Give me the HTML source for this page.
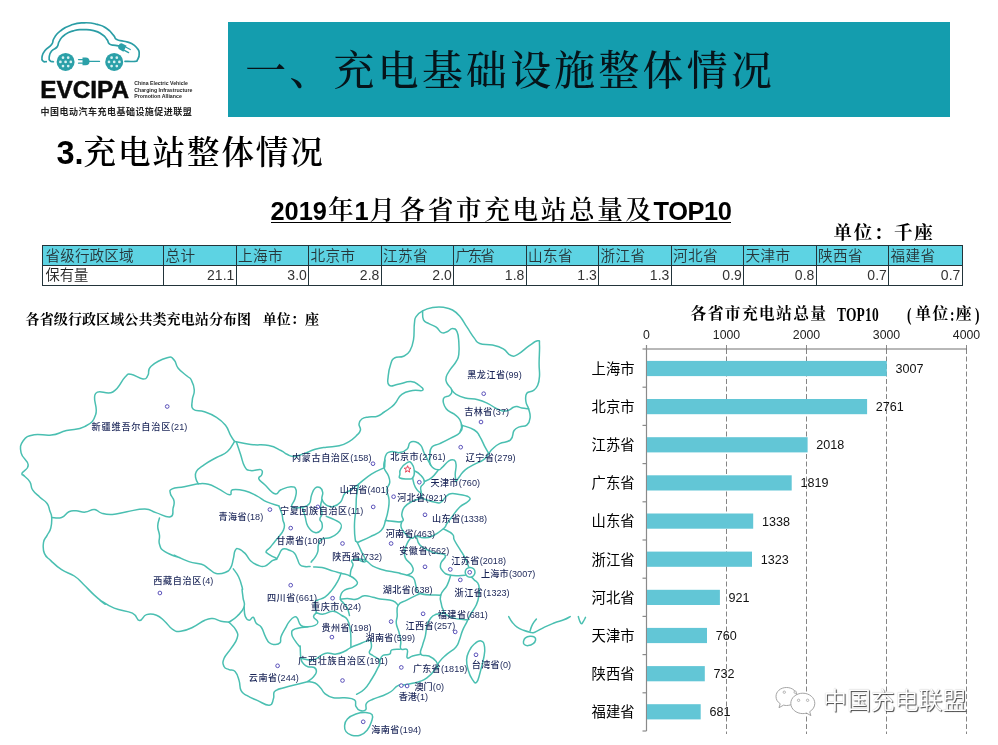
<!DOCTYPE html>
<html lang="zh-CN">
<head>
<meta charset="utf-8">
<title>充电站整体情况</title>
<style>
*{margin:0;padding:0;box-sizing:border-box}
html,body{width:998px;height:745px;background:#fff;overflow:hidden}
body{font-family:"Liberation Sans","Noto Sans CJK SC",sans-serif;color:#000}
#slide{position:relative;width:998px;height:745px;background:#fff;overflow:hidden}
.abs{position:absolute;white-space:nowrap;line-height:1}
.serif{font-family:"Liberation Serif","Noto Serif CJK SC",serif}
.sans{font-family:"Liberation Sans","Noto Sans CJK SC",sans-serif}
#banner{left:228px;top:21.5px;width:722px;height:95px;background:#149dae}
#banner-t{left:245.3px;top:51.8px;font-size:40.8px;font-weight:500;color:#06141a;letter-spacing:3.35px}
#h3{left:56.5px;top:137px;font-size:32.5px;font-weight:600;letter-spacing:1.95px}
#h3 b{font-family:"Liberation Sans",sans-serif;font-weight:700;letter-spacing:0}
#t1{left:270.5px;top:196.5px;height:26.2px;font-size:25.6px;font-weight:600;border-bottom:1.6px solid #000;width:460px}
#t1 span{position:absolute;top:0.7px;line-height:27px}
#t1 .n{font-family:"Liberation Sans",sans-serif;font-size:25.4px;top:1.2px;font-weight:700}
#unit{left:833.6px;top:224px;font-size:18.5px;font-weight:700;letter-spacing:1.65px}
table#tb{position:absolute;left:42px;top:244.6px;border-collapse:collapse;table-layout:fixed;width:920px;font-size:14.6px;color:#26363a;font-weight:350}
#tb td{border:1.3px solid #23343a;height:20px;padding:0 2.5px 0 2.5px;line-height:18px;white-space:nowrap;overflow:hidden}
#tb tr.h td{background:#5dd3e3;padding-left:1.4px;letter-spacing:0.45px;padding-top:1px}
#tb tr.v td{text-align:right;font-family:"Liberation Sans",sans-serif;font-size:14px;color:#333;padding-right:1.2px}
#tb tr.v td:first-child{text-align:left;font-family:"Liberation Sans","Noto Sans CJK SC",sans-serif;font-size:14.3px;color:#222}
#cap{left:25.6px;top:313.1px;font-size:14px;font-weight:700;letter-spacing:0.1px}
#ct{left:0;top:306px;font-size:15.8px;font-weight:700;letter-spacing:1.3px}
#ct span{position:absolute;top:0}
#ct .l{font-family:"Liberation Serif",serif;font-size:19.5px;letter-spacing:0.3px;top:-1.2px;transform:scaleX(.69);transform-origin:0 0;font-weight:700}
</style>
</head>
<body>
<div id="slide">
<div id="banner" class="abs"></div>
<div id="banner-t" class="abs serif">一、充电基础设施整体情况</div>
<div id="h3" class="abs serif"><b>3.</b>充电站整体情况</div>
<div id="t1" class="abs serif"><span class="n" style="left:0">2019</span><span style="left:57.5px">年</span><span class="n" style="left:84px">1</span><span style="left:99px">月</span><span style="left:129px;letter-spacing:2.65px">各省市充电站总量及</span><span class="n" style="left:383px;letter-spacing:-0.4px">TOP10</span></div>
<div id="unit" class="abs serif">单位：千座</div>
<table id="tb">
<colgroup><col style="width:121px"><col style="width:72.5px"><col style="width:72.5px"><col style="width:72.5px"><col style="width:72.5px"><col style="width:72.5px"><col style="width:72.5px"><col style="width:72.5px"><col style="width:72.5px"><col style="width:72.5px"><col style="width:72.5px"><col style="width:73.5px"></colgroup>
<tr class="h"><td style="padding-left:2.5px;letter-spacing:0.1px">省级行政区域</td><td>总计</td><td>上海市</td><td>北京市</td><td>江苏省</td><td style="letter-spacing:-2.2px">广东省</td><td>山东省</td><td>浙江省</td><td>河北省</td><td>天津市</td><td>陕西省</td><td>福建省</td></tr>
<tr class="v"><td>保有量</td><td>21.1</td><td>3.0</td><td>2.8</td><td>2.0</td><td>1.8</td><td>1.3</td><td>1.3</td><td>0.9</td><td>0.8</td><td>0.7</td><td>0.7</td></tr>
</table>
<div id="cap" class="abs serif">各省级行政区域公共类充电站分布图<span style="display:inline-block;width:11.5px"></span>单位：座</div>
<div id="ct" class="abs serif"><span style="left:690.6px">各省市充电站总量</span><span class="l" style="left:836.5px">TOP10</span><span class="l" style="left:907px">(</span><span style="left:915.3px">单位</span><span class="l" style="left:949.5px">:</span><span style="left:955.8px">座</span><span class="l" style="left:975px">)</span></div>
<svg class="abs" id="map" style="left:0;top:0" width="998" height="745" viewBox="0 0 998 745">
<g fill="none" stroke="#4abfb1" stroke-width="1.5" stroke-linecap="round" stroke-linejoin="round">
<path d="M23.6,475.4C23.3,474.8 21.1,475.4 22.2,472.9C23.3,470.4 28.5,469.7 28.2,464.9C27.9,460.1 22.3,458.6 21.1,452.8C19.9,447.0 20.1,445.0 23.2,440.7C26.3,436.4 27.4,436.0 34.2,434.7C41.0,433.4 43.6,436.1 51.4,435.1C59.2,434.1 58.5,432.6 66.5,430.6C74.5,428.6 77.6,430.5 84.6,426.6C91.6,422.7 93.0,422.5 95.7,414.5C98.4,406.5 91.6,398.8 95.7,393.4C99.8,388.0 105.8,395.9 112.8,392.0C119.8,388.1 120.6,381.6 124.9,377.3C129.2,373.0 126.6,373.8 130.9,374.2C135.2,374.6 138.9,378.7 143.0,378.9C147.1,379.1 146.1,378.2 148.0,375.2C149.9,372.2 146.5,370.4 151.1,366.2C155.7,362.0 161.7,359.2 167.2,357.7C172.7,356.2 171.6,357.6 174.2,360.1C176.8,362.6 175.1,364.3 178.2,368.2C181.3,372.1 184.2,373.5 187.3,376.3C190.4,379.1 189.6,376.7 191.3,380.0C193.0,383.3 194.1,385.3 194.3,390.1C194.5,394.9 192.5,395.5 192.3,400.1C192.1,404.7 190.4,406.4 193.3,409.2C196.2,412.0 198.8,409.9 204.4,411.8C210.0,413.7 211.4,414.1 216.5,417.3C221.6,420.5 222.1,421.0 225.5,425.3C228.9,429.6 228.4,431.5 230.6,435.4C232.8,439.3 233.6,440.0 234.6,441.4"/>
<path d="M234.6,441.4C232.9,443.8 231.8,447.6 227.5,451.5C223.2,455.4 222.0,454.4 216.5,457.5C211.0,460.6 209.2,461.2 204.4,464.6C199.6,468.0 198.3,468.2 196.3,471.6C194.3,475.0 195.4,475.8 195.9,478.7C196.4,481.6 197.7,482.5 198.3,483.7"/>
<path d="M198.3,483.7C194.9,484.4 190.5,485.5 184.2,486.7C177.9,487.9 175.5,487.1 172.2,488.8C168.9,490.5 170.0,490.7 170.4,493.6C170.8,496.5 173.4,497.3 174.0,500.8C174.6,504.3 174.0,504.3 173.1,508.1C172.2,511.9 174.5,515.7 170.4,516.8C166.3,517.9 162.0,514.5 155.9,512.6C149.8,510.7 152.0,509.2 145.0,509.0C138.0,508.8 134.7,510.4 126.9,511.7C119.1,513.0 118.5,514.1 112.4,514.4C106.3,514.7 105.8,514.3 101.5,513.1C97.2,511.9 98.2,509.7 94.3,509.5C90.4,509.3 89.6,511.8 85.2,512.1C80.8,512.4 80.0,510.9 76.1,510.8C72.2,510.7 72.4,510.1 68.9,511.7C65.4,513.3 65.7,516.1 61.6,517.5C57.5,518.9 54.1,517.5 51.7,517.5"/>
<path d="M23.6,475.4C25.1,476.9 27.7,478.3 29.9,481.8C32.1,485.3 30.2,486.2 32.6,489.9C35.0,493.6 36.4,493.9 39.9,497.2C43.4,500.5 44.7,500.2 47.1,503.5C49.5,506.8 48.7,507.4 49.8,510.8C50.9,514.2 51.5,513.4 51.7,517.5C51.9,521.6 51.9,523.7 50.8,528.0C49.7,532.3 48.9,531.8 47.1,535.3C45.3,538.8 44.1,538.2 43.5,542.5C42.9,546.8 42.6,549.1 44.4,553.4C46.2,557.7 46.7,556.7 50.8,560.6C54.9,564.5 56.0,566.0 61.6,569.7C67.2,573.4 69.1,572.5 74.3,576.0C79.5,579.5 78.6,579.6 83.4,584.2C88.2,588.8 89.1,590.3 94.3,595.1C99.5,599.9 103.7,602.9 105.1,604.1C106.5,605.3 97.9,599.1 100.1,600.1C102.3,601.1 106.4,605.0 114.2,608.1C122.0,611.2 126.4,610.2 132.4,613.2C138.4,616.2 136.0,620.3 139.4,620.6C142.8,620.9 142.4,615.9 146.5,614.6C150.6,613.3 152.2,613.6 156.5,615.2C160.8,616.8 160.7,617.8 164.6,621.2C168.5,624.6 168.7,626.9 172.6,629.3C176.5,631.7 175.9,631.8 180.7,631.3C185.5,630.8 187.0,630.0 192.8,627.3C198.6,624.6 200.1,622.3 204.9,620.2C209.7,618.1 209.0,618.4 212.9,618.6C216.8,618.8 217.1,620.3 221.0,621.2C224.9,622.1 227.1,622.0 229.0,622.2"/>
<path d="M229.0,622.2C230.7,624.1 234.2,626.4 236.1,630.3C238.0,634.2 238.3,634.0 237.1,638.3C235.9,642.6 234.2,643.6 231.1,648.4C228.0,653.2 225.7,654.2 224.0,658.5C222.3,662.8 222.8,663.8 224.0,666.5C225.2,669.2 226.3,668.4 229.0,669.6C231.7,670.8 232.7,669.0 235.1,671.6C237.5,674.2 237.7,676.0 239.1,680.6C240.5,685.2 239.2,687.1 241.1,690.7C243.0,694.3 243.3,693.4 247.2,695.7C251.1,698.0 251.9,698.1 257.2,700.4C262.5,702.7 265.4,705.6 269.3,705.2C273.2,704.8 272.2,702.0 273.4,698.8C274.6,695.6 272.8,694.1 274.4,691.7C276.0,689.3 279.1,689.3 280.0,688.7C280.9,688.1 276.3,689.8 278.3,689.3C280.3,688.8 283.1,687.8 288.2,686.5C293.3,685.2 294.8,684.9 299.5,683.7C304.2,682.5 305.9,682.1 307.9,681.6"/>
<path d="M307.9,681.6C309.6,681.9 312.0,681.5 315.0,683.0C318.0,684.5 318.2,685.4 320.6,687.9C323.0,690.4 321.9,691.2 324.9,693.6C327.9,696.0 328.6,696.8 333.3,697.8C338.0,698.8 339.5,697.3 344.6,697.8C349.7,698.3 351.8,697.9 354.5,699.9C357.2,701.9 354.6,703.8 355.9,706.3C357.2,708.8 357.7,709.7 360.1,710.5C362.5,711.3 364.2,711.5 365.7,709.8C367.2,708.1 364.7,705.9 366.4,703.4C368.1,700.9 368.9,701.0 372.8,699.2C376.7,697.4 378.3,697.5 382.7,695.7C387.1,693.9 387.5,693.9 391.1,691.5C394.7,689.1 394.5,687.3 397.5,685.8C400.5,684.3 399.8,685.7 403.4,685.1C407.0,684.5 408.6,684.2 412.5,683.3C416.4,682.4 416.2,682.8 419.7,681.5C423.2,680.2 423.4,680.5 426.9,677.9C430.4,675.3 431.1,674.6 434.1,670.7C437.1,666.8 436.5,665.5 439.5,661.6C442.5,657.7 442.8,657.9 446.7,654.4C450.6,650.9 452.8,650.7 455.8,647.2C458.8,643.7 457.8,644.0 459.4,640.0C461.0,636.0 460.7,635.0 462.5,630.6C464.3,626.2 465.1,625.5 467.0,621.6C468.9,617.7 468.4,618.2 470.6,614.3C472.8,610.4 474.1,609.6 476.1,605.3C478.1,601.0 478.2,601.0 478.8,596.2C479.4,591.4 479.9,589.2 478.8,585.3C477.7,581.4 476.1,581.8 474.3,579.9C472.5,578.0 472.2,577.8 471.5,577.2"/>
<path d="M468.8,567.2C467.9,565.0 467.4,562.4 465.2,558.1C463.0,553.8 462.4,553.4 459.8,549.1C457.2,544.8 456.1,543.6 454.3,540.0C452.5,536.4 455.1,536.9 452.5,534.2C449.9,531.5 445.6,530.1 443.4,528.8"/>
<path d="M307.9,681.6C309.3,680.4 311.6,679.1 313.6,676.7C315.6,674.3 316.2,673.9 316.4,671.7C316.6,669.5 316.3,668.7 314.3,667.5C312.3,666.3 310.4,667.6 307.9,666.8C305.4,666.0 305.4,666.0 303.7,664.0C302.0,662.0 301.7,662.4 300.9,658.3C300.1,654.2 300.5,649.8 300.2,647.0C299.9,644.2 300.7,648.0 299.5,646.5C298.3,645.0 297.1,643.9 295.2,640.9C293.3,637.9 291.7,636.7 291.7,633.8C291.7,630.9 291.3,630.6 295.2,628.9C299.1,627.2 304.9,627.3 307.9,626.8"/>
<path d="M356.6,694.3C358.4,693.1 360.7,692.9 364.3,689.3C367.9,685.7 368.4,684.2 371.4,679.5C374.4,674.8 375.0,674.0 377.0,669.6C379.0,665.2 380.8,664.5 379.8,661.1C378.8,657.7 375.3,657.5 372.8,655.5C370.3,653.5 369.6,654.7 369.3,652.7C369.0,650.7 371.1,650.0 371.4,647.0C371.7,644.0 370.9,641.7 370.7,640.0"/>
<path d="M379.8,661.1C380.5,659.8 380.3,657.2 382.7,655.5C385.1,653.8 387.5,655.4 389.7,654.1C391.9,652.8 389.3,651.1 391.8,649.9C394.3,648.7 398.0,649.4 400.0,649.2"/>
<path d="M300.9,658.3C303.9,658.6 307.8,660.9 313.6,659.7C319.4,658.5 319.5,654.7 324.9,653.4C330.3,652.1 331.4,654.6 336.1,654.1C340.8,653.6 341.2,652.8 344.6,651.3C348.0,649.8 346.8,649.5 350.2,647.8C353.6,646.1 355.0,645.7 358.7,644.2C362.4,642.7 362.8,642.4 365.7,641.4C368.6,640.4 369.5,640.3 370.7,640.0"/>
<path d="M350.9,647.0C350.9,645.3 350.9,642.2 350.9,640.0C350.9,637.8 351.1,640.5 350.9,638.0C350.7,635.5 351.0,634.0 350.2,629.6C349.4,625.2 349.4,623.1 347.4,619.7C345.4,616.3 345.2,617.5 341.8,615.5C338.4,613.5 337.7,611.6 333.3,611.3C328.9,611.0 327.5,613.8 323.4,614.1C319.3,614.4 318.1,613.0 316.4,612.7"/>
<path d="M344.6,726.0C344.9,723.0 344.7,721.9 347.4,719.0C350.1,716.1 351.5,715.5 355.9,714.0C360.3,712.5 361.8,712.4 365.7,712.6C369.6,712.8 370.7,712.5 372.1,714.7C373.5,716.9 372.6,718.1 371.4,721.8C370.2,725.5 369.8,727.0 367.1,730.2C364.4,733.4 363.8,734.0 360.1,735.2C356.4,736.4 355.0,736.1 351.6,735.2C348.2,734.3 347.7,733.8 346.0,731.6C344.3,729.4 344.3,729.0 344.6,726.0"/>
<path d="M229.0,622.2C230.9,620.8 233.5,619.8 237.1,616.2C240.7,612.6 242.7,611.4 244.1,607.1C245.5,602.8 243.6,602.2 243.1,598.1C242.6,594.0 242.3,592.4 242.1,590.0C241.9,587.6 243.1,591.0 242.3,587.9C241.5,584.8 240.9,581.6 238.7,577.0C236.5,572.4 234.6,570.8 233.3,568.8"/>
<path d="M244.1,607.1C244.4,609.3 244.0,613.1 245.2,616.2C246.4,619.3 247.3,620.0 249.2,620.2C251.1,620.4 251.5,616.5 253.2,617.2C254.9,617.9 254.3,620.8 256.2,623.2C258.1,625.6 259.1,624.2 261.3,627.3C263.5,630.4 263.4,632.6 265.3,636.3C267.2,640.0 267.1,640.9 269.3,642.8C271.5,644.7 271.8,644.4 274.4,644.4C277.0,644.4 278.4,644.7 280.0,642.8C281.6,640.9 279.8,640.1 281.1,636.6C282.4,633.1 283.4,631.9 285.4,628.2C287.4,624.5 287.4,623.8 289.6,621.1C291.8,618.4 292.6,617.6 294.5,616.9C296.4,616.2 295.9,616.3 297.4,618.3C298.9,620.3 298.4,623.4 300.9,625.4C303.4,627.4 304.5,626.8 307.9,626.8C311.3,626.8 312.6,626.6 315.0,625.4C317.4,624.2 318.1,623.8 317.8,621.8C317.5,619.8 313.9,619.1 313.6,616.9C313.3,614.7 315.7,613.7 316.4,612.7"/>
<path d="M316.4,612.7C316.1,610.3 314.7,605.8 315.0,602.8C315.3,599.8 315.4,601.3 317.8,600.0C320.2,598.7 321.5,599.6 324.9,597.2C328.3,594.8 328.9,593.8 331.9,590.1C334.9,586.4 335.3,585.8 337.5,581.7C339.7,577.6 340.2,575.2 341.1,573.2"/>
<path d="M159.5,518.0C159.1,520.0 157.7,522.0 157.7,526.2C157.7,530.4 159.1,531.0 159.5,535.3C159.9,539.6 158.2,540.4 159.5,544.3C160.8,548.2 160.0,548.3 164.9,551.6C169.8,554.9 177.7,557.0 180.0,557.9C182.3,558.8 172.3,554.4 174.4,555.3C176.5,556.2 182.4,559.4 188.9,561.6C195.4,563.8 196.8,562.6 201.6,564.3C206.4,566.0 205.3,566.6 208.8,568.8C212.3,571.0 212.2,572.5 216.1,573.4C220.0,574.3 221.6,573.8 225.1,572.5C228.6,571.2 228.6,571.2 230.6,567.9C232.6,564.6 232.2,563.0 233.3,558.9C234.4,554.8 233.8,553.1 235.1,550.7C236.4,548.3 236.3,548.3 238.7,548.9C241.1,549.5 242.3,550.6 245.1,553.4C247.9,556.2 247.5,557.9 250.5,560.7C253.5,563.5 254.3,563.9 257.8,565.2C261.3,566.5 261.5,567.2 265.0,566.1C268.5,565.0 269.5,562.4 272.3,560.7C275.1,559.0 276.8,560.0 276.8,558.9C276.8,557.8 274.6,557.7 272.3,556.3C270.0,554.9 268.7,554.4 267.3,553.2C265.9,552.0 265.6,552.6 266.3,551.2C267.0,549.8 268.4,549.4 270.3,547.2C272.2,545.0 272.1,544.9 274.3,542.2C276.5,539.5 277.1,539.0 279.3,536.1C281.5,533.2 282.2,532.8 283.4,530.1C284.6,527.4 284.5,527.4 284.4,525.0C284.3,522.6 283.5,522.7 282.9,520.0C282.3,517.3 282.9,517.3 281.9,513.9C280.9,510.5 279.6,507.8 278.9,505.9"/>
<path d="M198.3,483.7C200.7,483.8 203.6,483.1 208.4,484.3C213.2,485.5 213.4,486.3 218.5,488.8C223.6,491.3 226.2,494.6 229.6,494.8C233.0,495.0 229.0,490.8 232.6,489.8C236.2,488.8 238.9,489.4 244.7,490.8C250.5,492.2 251.4,493.1 256.7,495.8C262.0,498.5 261.5,499.5 266.8,501.9C272.1,504.3 276.0,504.9 278.9,505.9"/>
<path d="M276.8,558.8C277.4,557.7 278.2,556.3 279.3,554.2C280.4,552.1 280.2,551.5 281.4,550.2C282.6,548.9 282.5,548.7 284.4,548.7C286.3,548.7 287.0,549.1 289.4,550.2C291.8,551.3 292.6,551.0 294.5,553.2C296.4,555.4 296.2,556.5 297.5,559.3C298.8,562.1 298.3,563.1 300.0,564.8C301.7,566.5 302.1,566.1 304.5,566.5C306.9,566.9 308.8,566.5 310.1,566.5"/>
<path d="M313.6,566.9C315.6,567.1 317.3,566.6 322.0,567.6C326.7,568.6 328.7,569.8 333.3,571.1C337.9,572.4 337.0,572.0 341.1,573.2C345.2,574.4 346.6,574.3 350.2,576.0C353.8,577.7 354.2,578.3 355.9,580.2C357.6,582.1 358.0,582.1 357.3,583.8C356.6,585.5 356.0,585.8 353.0,587.3C350.0,588.8 347.5,588.4 344.6,590.1C341.7,591.8 342.1,592.1 341.1,594.3C340.1,596.5 339.9,597.3 340.4,599.3C340.9,601.3 341.5,600.6 343.2,602.8C344.9,605.0 345.9,605.4 347.4,608.4C348.9,611.4 349.0,613.8 349.5,615.5"/>
<path d="M326.3,516.4C328.3,517.2 331.3,518.2 334.7,519.9C338.1,521.6 338.9,521.5 340.4,523.4C341.9,525.3 341.8,525.3 341.1,527.7C340.4,530.1 340.0,530.9 337.5,533.3C335.0,535.7 334.2,536.1 330.5,537.5C326.8,538.9 324.9,537.3 322.0,539.0C319.1,540.7 319.5,541.6 318.5,544.6C317.5,547.6 318.6,548.6 317.8,551.6C317.0,554.6 316.5,554.9 315.0,557.3C313.5,559.7 312.3,560.4 311.5,561.5C310.7,562.6 311.5,561.8 311.5,561.9"/>
<path d="M234.6,441.4C238.5,442.1 242.5,443.5 250.7,444.5C258.9,445.5 261.6,444.1 268.8,445.5C276.0,446.9 276.5,448.4 280.9,450.5C285.3,452.6 283.8,452.9 287.0,454.3C290.2,455.7 290.0,456.6 294.1,456.4C298.2,456.2 298.9,455.3 304.0,453.6C309.1,451.9 309.8,450.8 315.2,449.3C320.6,447.8 320.7,448.0 326.5,447.2C332.3,446.4 333.8,447.1 339.2,445.8C344.6,444.5 345.0,444.0 349.1,441.6C353.2,439.2 353.4,438.7 356.1,436.0C358.8,433.3 359.7,433.2 360.4,430.3C361.1,427.4 358.7,426.7 359.0,424.0C359.3,421.3 359.4,420.7 361.8,419.0C364.2,417.3 365.1,417.6 368.8,416.9C372.5,416.2 373.6,417.4 377.3,416.2C381.0,415.0 380.9,414.2 384.3,412.0C387.7,409.8 388.7,409.2 391.4,407.0C394.1,404.8 393.1,405.8 395.6,402.8C398.1,399.8 397.7,397.2 401.8,394.3C405.9,391.4 407.6,391.6 412.6,390.6C417.6,389.6 421.1,391.6 422.6,390.3C424.1,389.0 421.8,387.3 419.0,385.2C416.2,383.1 415.8,381.8 410.8,381.6C405.8,381.4 403.3,383.4 398.1,384.3C392.9,385.2 391.5,387.2 389.1,385.2C386.7,383.2 387.8,381.3 388.2,376.1C388.6,370.9 389.4,367.7 390.9,363.4C392.4,359.1 391.5,359.7 394.5,358.0C397.5,356.3 399.9,357.9 403.6,356.2C407.3,354.5 407.5,354.7 409.9,350.8C412.3,346.9 412.4,346.4 413.5,339.9C414.6,333.4 413.7,329.3 414.4,323.6C415.1,317.9 414.3,319.3 416.3,316.3C418.3,313.3 418.7,313.0 422.6,310.9C426.5,308.8 427.6,308.5 432.6,307.6C437.6,306.7 438.6,306.7 443.4,307.3C448.2,307.9 448.6,307.8 452.5,310.0C456.4,312.2 456.3,312.2 459.8,316.3C463.3,320.4 463.5,322.0 467.0,327.2C470.5,332.4 471.3,334.2 474.3,338.1C477.3,342.0 475.4,341.8 479.7,343.5C484.0,345.2 486.7,343.7 492.4,345.0C498.1,346.3 499.0,346.4 503.3,348.9C507.6,351.4 507.0,354.0 510.5,355.3C514.0,356.6 513.5,356.6 517.8,354.4C522.1,352.2 523.8,349.5 528.6,346.2C533.4,342.9 535.1,341.0 537.7,340.8C540.3,340.6 539.2,339.9 539.5,345.3C539.8,350.7 539.1,356.0 539.1,363.4C539.1,370.8 539.8,370.9 539.5,376.1C539.2,381.3 539.2,381.7 537.7,385.2C536.2,388.7 535.8,388.7 533.2,390.6C530.6,392.5 528.6,390.7 526.8,393.3C525.0,395.9 525.5,397.8 525.9,401.5C526.3,405.2 527.6,404.9 528.6,408.8C529.6,412.7 530.5,413.9 530.1,417.8C529.7,421.7 529.3,422.9 526.8,425.1C524.3,427.3 522.6,425.6 519.6,426.9C516.6,428.2 516.3,427.4 514.1,430.5C511.9,433.6 514.0,436.8 510.5,439.9C507.0,443.0 503.9,441.4 499.6,443.6C495.3,445.8 495.0,446.6 492.4,449.0C489.8,451.4 491.0,450.9 488.8,453.5C486.6,456.1 486.8,457.3 483.3,459.9C479.8,462.5 478.6,462.0 474.3,464.4C470.0,466.8 468.7,467.0 465.2,469.8C461.7,472.6 462.0,473.4 459.8,476.2C457.6,479.0 457.0,480.3 456.1,481.6"/>
<path d="M236.6,442.4C237.6,445.3 238.7,448.7 240.6,454.5C242.5,460.3 242.3,462.7 244.7,466.6C247.1,470.5 246.8,469.9 250.7,470.6C254.6,471.3 258.1,468.6 260.8,469.6C263.5,470.6 262.3,472.5 261.8,474.7C261.3,476.9 258.1,476.3 258.8,478.7C259.5,481.1 260.9,481.1 264.8,484.7C268.7,488.3 271.0,492.6 274.9,493.8C278.8,495.0 277.0,491.5 280.9,489.8C284.8,488.1 287.4,486.7 291.0,486.7C294.6,486.7 295.0,486.9 296.0,489.8C297.0,492.7 296.0,494.7 295.0,498.8C294.0,502.9 290.2,504.9 292.0,506.9C293.8,508.9 298.1,508.0 302.3,507.2C306.5,506.4 307.1,506.6 309.3,503.7C311.5,500.8 310.1,498.9 311.5,495.2C312.9,491.5 313.0,490.0 315.0,488.2C317.0,486.4 318.1,486.5 319.9,487.5C321.7,488.5 322.2,489.5 322.7,492.4C323.2,495.3 321.1,496.5 322.0,499.5C322.9,502.5 323.6,503.4 326.3,505.1C329.0,506.8 329.9,507.2 333.3,506.5C336.7,505.8 337.7,505.3 340.4,502.3C343.1,499.3 342.2,496.7 344.6,493.8C347.0,490.9 346.8,492.7 350.2,490.3C353.6,487.9 353.6,487.9 358.7,484.0C363.8,480.1 365.3,478.0 371.4,474.1C377.5,470.2 381.1,469.3 384.1,467.8"/>
<path d="M302.3,507.2C303.0,509.4 303.8,511.8 305.1,516.4C306.4,521.0 305.5,522.4 307.9,526.3C310.3,530.2 311.8,531.8 315.0,532.6C318.2,533.4 319.6,532.0 321.3,529.8C323.0,527.6 322.3,525.9 322.0,523.4C321.7,520.9 319.9,521.6 319.9,519.2C319.9,516.8 321.8,516.6 322.0,513.6C322.2,510.6 320.6,509.9 320.6,506.5C320.6,503.1 321.7,501.2 322.0,499.5"/>
<path d="M358.7,484.0C358.2,486.7 357.3,489.1 356.6,495.2C355.9,501.3 356.4,502.5 355.9,509.3C355.4,516.1 354.7,516.3 354.5,523.4C354.3,530.5 354.5,534.4 355.2,539.0C355.9,543.6 355.8,539.5 357.3,542.5C358.8,545.5 359.5,547.0 361.5,551.6C363.5,556.2 366.7,559.7 365.7,561.5C364.7,563.3 357.3,559.3 357.3,559.1C357.3,558.9 362.0,558.8 365.7,560.5C369.4,562.2 368.7,563.9 372.8,566.1C376.9,568.3 378.0,568.3 382.7,569.7C387.4,571.1 388.3,571.0 392.5,571.8C396.7,572.6 398.2,572.9 400.0,573.2"/>
<path d="M350.2,576.0C350.4,574.7 350.2,573.1 350.9,570.4C351.6,567.7 352.8,567.1 353.0,564.7C353.2,562.3 350.6,561.8 351.6,560.5C352.6,559.2 355.9,559.4 357.3,559.1"/>
<path d="M384.8,460.0C384.6,461.9 383.3,464.1 384.1,467.8C384.9,471.5 387.0,471.9 388.3,475.5C389.6,479.1 390.0,479.2 389.7,482.6C389.4,486.0 387.1,485.5 386.9,489.6C386.7,493.7 388.7,494.8 389.0,499.5C389.3,504.2 389.1,504.2 388.3,509.3C387.5,514.4 387.2,515.5 385.5,520.6C383.8,525.7 384.9,526.6 381.2,530.5C377.5,534.4 375.7,533.9 370.0,536.8C364.3,539.7 360.3,541.1 357.3,542.5"/>
<path d="M422.6,310.9C422.8,313.1 422.0,316.9 423.5,319.9C425.0,322.9 425.9,321.8 428.9,323.6C431.9,325.4 433.2,325.0 436.2,327.2C439.2,329.4 439.0,331.5 441.6,332.6C444.2,333.7 444.5,332.7 447.1,331.7C449.7,330.7 450.1,328.6 452.5,328.6C454.9,328.6 455.5,328.6 457.0,331.7C458.5,334.8 458.4,336.3 458.8,341.7C459.2,347.1 459.4,349.6 458.8,354.4C458.2,359.2 458.0,358.1 456.1,361.6C454.2,365.1 453.1,365.2 450.7,368.9C448.3,372.6 447.1,373.5 446.2,377.0C445.3,380.5 445.8,380.4 447.1,383.4C448.4,386.4 451.0,386.9 451.6,389.7C452.2,392.5 451.8,393.0 449.8,395.2C447.8,397.4 444.3,395.5 443.4,398.8C442.5,402.1 443.6,405.1 446.2,408.8C448.8,412.5 451.0,411.6 454.3,414.2C457.6,416.8 458.0,416.6 459.8,419.6C461.6,422.6 461.6,423.9 461.6,426.9C461.6,429.9 459.6,432.7 459.8,432.3C460.0,431.9 462.5,425.3 462.5,425.4C462.5,425.5 462.6,429.7 459.8,432.7C457.0,435.7 455.5,435.5 450.7,438.1C445.9,440.7 444.4,441.4 439.8,443.6C435.2,445.8 434.1,444.2 431.7,447.2C429.3,450.2 430.0,452.0 429.8,456.3C429.6,460.6 428.8,462.1 430.8,465.3C432.8,468.5 435.2,469.4 438.0,469.8C440.8,470.2 439.9,469.3 442.5,467.1C445.1,464.9 446.1,462.5 448.9,460.8C451.7,459.1 452.6,459.1 454.3,460.2C456.0,461.3 455.9,461.9 456.1,465.3C456.3,468.7 455.2,470.5 455.2,474.4C455.2,478.3 455.9,479.9 456.1,481.6"/>
<path d="M451.6,389.7C452.7,390.8 452.8,392.3 456.1,394.3C459.4,396.3 460.0,396.6 465.2,397.9C470.4,399.2 472.4,398.3 477.9,399.7C483.4,401.1 483.8,401.6 488.0,403.6C492.2,405.6 491.8,406.1 495.3,407.9C498.8,409.7 499.3,410.3 502.5,410.9C505.7,411.5 505.9,411.2 508.5,410.3C511.1,409.4 511.4,408.2 513.4,407.3C515.4,406.4 515.0,406.5 517.0,406.6C519.0,406.7 519.0,407.4 521.8,407.9C524.6,408.4 527.0,408.6 528.6,408.8"/>
<path d="M462.5,425.4C465.3,426.5 470.2,427.4 474.3,430.0C478.4,432.6 477.1,432.2 479.7,436.3C482.3,440.4 482.9,443.1 485.1,447.2C487.3,451.3 487.9,452.0 488.8,453.5"/>
<path d="M384.5,467.1C384.7,464.5 383.9,460.0 385.4,456.3C386.9,452.6 387.4,452.6 390.9,451.7C394.4,450.8 396.0,453.2 399.9,452.6C403.8,452.0 404.8,451.4 407.2,449.0C409.6,446.6 408.0,444.4 409.9,442.7C411.8,441.0 412.7,441.2 415.3,441.8C417.9,442.4 418.6,442.6 420.8,445.4C423.0,448.2 422.0,448.7 424.4,453.5C426.8,458.3 429.3,462.5 430.8,465.3"/>
<path d="M399.9,474.4C400.1,472.2 399.0,471.7 400.8,468.9C402.6,466.1 404.6,463.9 407.2,462.6C409.8,461.3 410.0,461.5 411.7,463.5C413.4,465.5 414.2,467.3 414.4,470.8C414.6,474.3 414.3,476.1 412.6,478.0C410.9,479.9 410.2,478.9 407.2,478.9C404.2,478.9 401.7,479.1 399.9,478.0C398.1,476.9 399.7,476.6 399.9,474.4"/>
<path d="M414.4,470.8C415.7,471.7 417.5,471.8 419.9,474.4C422.3,477.0 424.2,478.6 424.4,481.6C424.6,484.6 421.7,484.5 420.8,487.1C419.9,489.7 422.1,492.5 420.8,492.5C419.5,492.5 417.3,490.6 415.3,487.1C413.3,483.6 413.2,480.2 412.6,478.0"/>
<path d="M424.4,481.6C426.2,480.6 428.4,480.3 431.7,477.6C435.0,474.9 436.5,472.1 438.0,470.4"/>
<path d="M384.8,460.0 L384.5,467.1"/>
<path d="M385.5,520.6C389.0,520.9 399.8,522.0 400.0,522.0C400.2,522.0 385.9,520.7 386.3,520.6C386.7,520.5 398.1,523.0 401.8,521.5C405.5,520.0 401.2,517.8 401.8,514.3C402.4,510.8 402.1,510.0 404.5,507.0C406.9,504.0 407.8,503.8 411.7,501.6C415.6,499.4 418.6,500.1 420.8,497.9C423.0,495.7 420.8,493.8 420.8,492.5"/>
<path d="M420.8,497.9C424.5,499.0 431.2,501.6 436.2,502.5C441.2,503.4 438.6,503.6 441.6,501.6C444.6,499.6 445.0,496.1 448.9,494.3C452.8,492.5 453.1,493.7 457.9,494.3C462.7,494.9 466.4,495.2 468.8,497.0C471.2,498.8 470.1,499.2 467.9,501.6C465.7,504.0 463.5,503.5 459.8,507.0C456.1,510.5 455.5,512.2 452.5,516.1C449.5,520.0 449.3,520.3 447.1,523.3C444.9,526.3 446.9,525.8 443.4,528.8C439.9,531.8 437.4,533.8 432.6,536.0C427.8,538.2 427.4,537.8 423.5,537.8C419.6,537.8 419.3,536.0 416.3,536.0C413.3,536.0 414.3,539.5 410.8,537.8C407.3,536.1 404.0,532.7 401.8,528.8C399.6,524.9 401.8,523.3 401.8,521.5"/>
<path d="M410.8,537.8C409.9,539.1 408.7,540.3 407.2,543.3C405.7,546.3 405.1,548.7 404.5,550.5C403.9,552.3 404.3,549.1 404.5,550.9C404.7,552.7 403.7,554.6 405.4,558.1C407.1,561.6 410.0,562.1 411.7,565.4C413.4,568.7 413.7,569.3 412.6,571.7C411.5,574.1 408.5,574.4 407.2,575.3"/>
<path d="M416.3,536.0C417.2,538.2 416.9,541.6 419.9,545.1C422.9,548.6 425.4,548.7 428.9,550.5C432.4,552.3 430.5,551.5 434.4,552.7C438.3,553.9 443.8,552.8 445.3,555.4C446.8,558.0 441.4,559.9 440.7,563.6C440.0,567.3 440.1,568.0 442.5,570.8C444.9,573.6 445.3,574.2 450.7,575.3C456.1,576.4 461.7,575.3 465.2,575.3"/>
<path d="M399.9,573.5C401.7,573.9 403.9,574.2 407.2,575.3C410.5,576.4 411.3,575.3 413.5,578.1C415.7,580.9 414.8,583.4 416.3,587.1C417.8,590.8 414.0,591.5 419.9,593.5C425.8,595.5 435.7,594.9 440.7,595.3"/>
<path d="M450.7,575.3C449.8,577.7 449.5,580.5 447.1,585.3C444.7,590.1 442.0,590.5 440.7,595.3C439.4,600.1 441.0,601.2 441.6,605.3C442.2,609.4 444.7,610.3 443.4,612.5C442.1,614.7 439.2,613.0 436.2,614.3C433.2,615.6 433.0,615.3 430.8,617.9C428.6,620.5 428.4,620.8 427.1,625.2C425.8,629.6 426.4,631.3 425.3,636.1C424.2,640.9 423.7,640.8 422.6,645.1C421.5,649.4 419.3,651.6 420.8,654.2C422.3,656.8 425.2,654.3 428.9,656.0C432.6,657.7 434.0,658.4 436.2,661.4C438.4,664.4 437.6,666.9 438.0,668.7"/>
<path d="M443.4,612.5C445.6,613.8 446.8,616.1 452.5,617.9C458.2,619.7 463.5,619.3 467.0,619.8"/>
<path d="M419.9,593.5C416.9,595.0 412.4,597.0 407.2,599.8C402.0,602.6 400.5,601.4 398.1,605.3C395.7,609.2 397.6,611.8 397.2,616.1C396.8,620.4 395.9,619.5 396.3,623.4C396.7,627.3 397.9,628.1 399.0,632.4C400.1,636.7 400.4,637.6 400.8,641.5C401.2,645.4 399.3,646.8 400.8,648.8C402.3,650.8 405.7,647.5 407.2,649.7C408.7,651.9 405.9,656.3 407.2,657.8C408.5,659.3 409.3,656.9 412.6,656.0C415.9,655.1 418.8,654.6 420.8,654.2"/>
<path d="M398.1,605.3C396.8,604.2 397.0,602.2 392.7,600.7C388.4,599.2 384.8,599.7 380.0,598.9C375.2,598.1 376.6,597.9 372.8,597.2C369.0,596.5 368.4,595.3 364.3,595.8C360.2,596.3 360.0,598.6 355.9,599.3C351.8,600.0 351.1,598.6 347.4,598.6C343.7,598.6 342.1,599.1 340.4,599.3"/>
<path d="M481.0,640.9C483.6,641.5 484.0,643.1 484.6,647.2C485.2,651.3 484.8,651.9 483.7,658.0C482.6,664.1 481.8,666.6 480.1,672.5C478.4,678.4 478.4,680.9 476.5,682.4C474.6,683.9 473.9,681.6 472.0,678.8C470.1,676.0 469.7,675.3 468.4,670.7C467.1,666.1 466.4,664.6 466.6,659.8C466.8,655.0 467.6,654.5 469.3,650.8C471.0,647.1 471.0,646.9 473.8,644.5C476.6,642.1 478.4,640.3 481.0,640.9"/>
<path d="M508.7,616.6C509.5,617.9 510.2,619.7 512.2,622.2C514.2,624.7 514.4,625.2 517.1,627.1C519.8,629.0 520.4,629.1 523.5,630.3C526.6,631.5 527.3,631.7 530.0,632.2C532.7,632.7 531.3,633.4 534.8,632.2C538.3,631.0 539.9,629.3 544.5,627.1C549.1,624.9 549.5,624.8 554.1,623.0C558.7,621.2 559.9,621.3 563.8,619.8C567.7,618.3 568.7,617.4 570.2,616.6"/>
<path d="M536.4,619.0C535.4,620.3 533.9,621.7 532.4,624.6C530.9,627.5 530.6,629.5 530.0,631.1"/>
<path d="M523.5,641.6C523.8,640.0 523.8,639.2 525.4,637.9C527.0,636.6 527.8,636.4 530.0,636.2C532.2,636.0 533.2,636.2 534.5,637.1C535.8,638.0 535.9,638.4 535.6,640.0C535.3,641.6 535.0,642.4 533.2,643.7C531.4,645.0 530.4,645.4 528.3,645.6C526.2,645.8 525.5,645.5 524.3,644.5C523.1,643.5 523.2,643.2 523.5,641.6"/>
<path d="M578.3,616.6C578.7,617.8 579.1,619.7 579.9,621.4C580.7,623.1 580.7,623.8 581.5,623.8C582.3,623.8 582.4,622.9 583.4,621.4C584.4,619.9 585.0,618.4 585.5,617.4"/>
<circle cx="470.1" cy="572.3" r="4.9"/>
</g>
<g fill="#fff" stroke="#4a3fb2" stroke-width="0.9">
<circle cx="167.2" cy="406.5" r="1.85"/>
<circle cx="483.7" cy="393.7" r="1.85"/>
<circle cx="481" cy="422" r="1.85"/>
<circle cx="460.7" cy="447.2" r="1.85"/>
<circle cx="373" cy="463.7" r="1.85"/>
<circle cx="419.3" cy="482.2" r="1.85"/>
<circle cx="393.6" cy="496.7" r="1.85"/>
<circle cx="373.2" cy="506.9" r="1.85"/>
<circle cx="425" cy="514.8" r="1.85"/>
<circle cx="317.8" cy="506.9" r="1.85"/>
<circle cx="269.9" cy="509.6" r="1.85"/>
<circle cx="290.7" cy="528.1" r="1.85"/>
<circle cx="342.5" cy="543.5" r="1.85"/>
<circle cx="391.1" cy="543.5" r="1.85"/>
<circle cx="425" cy="566.8" r="1.85"/>
<circle cx="450.3" cy="569.4" r="1.85"/>
<circle cx="469.7" cy="572.3" r="1.85"/>
<circle cx="460.3" cy="579.9" r="1.85"/>
<circle cx="290.7" cy="585.2" r="1.85"/>
<circle cx="332.6" cy="598.2" r="1.85"/>
<circle cx="331.9" cy="637.1" r="1.85"/>
<circle cx="391.1" cy="621.6" r="1.85"/>
<circle cx="423.1" cy="613.8" r="1.85"/>
<circle cx="455.2" cy="631.9" r="1.85"/>
<circle cx="277.6" cy="665.8" r="1.85"/>
<circle cx="342.5" cy="680.5" r="1.85"/>
<circle cx="401.3" cy="667.4" r="1.85"/>
<circle cx="401.3" cy="685.6" r="1.85"/>
<circle cx="407.1" cy="686" r="1.85"/>
<circle cx="476" cy="654.8" r="1.85"/>
<circle cx="363.2" cy="721.8" r="1.85"/>
<circle cx="159.9" cy="593" r="1.85"/>
</g>
<polygon points="407.6,465.7 408.5,468.1 411.0,468.2 409.0,469.8 409.7,472.2 407.6,470.8 405.5,472.2 406.2,469.8 404.2,468.2 406.7,468.1" fill="#fff" stroke="#e8344a" stroke-width="0.9"/>
<g font-family="Liberation Sans, Noto Sans CJK SC, sans-serif" font-size="9.1" font-weight="500" fill="#1b2658">
<text x="467.3" y="378.0"><tspan letter-spacing="0.46">黑龙江省</tspan><tspan>(99)</tspan></text>
<text x="464.3" y="415.2"><tspan letter-spacing="0.41">吉林省</tspan><tspan>(37)</tspan></text>
<text x="465.8" y="460.5"><tspan letter-spacing="0.42">辽宁省</tspan><tspan>(279)</tspan></text>
<text x="292.1" y="460.5"><tspan letter-spacing="0.59">内蒙古自治区</tspan><tspan>(158)</tspan></text>
<text x="390.3" y="459.6"><tspan letter-spacing="0.57">北京市</tspan><tspan>(2761)</tspan></text>
<text x="430.5" y="485.6"><tspan letter-spacing="0.32">天津市</tspan><tspan>(760)</tspan></text>
<text x="339.8" y="493.1"><tspan letter-spacing="0.15">山西省</tspan><tspan>(401)</tspan></text>
<text x="397.2" y="500.7"><tspan letter-spacing="0.35">河北省</tspan><tspan>(921)</tspan></text>
<text x="280" y="514.0"><tspan letter-spacing="0.59">宁夏回族自治区</tspan><tspan>(11)</tspan></text>
<text x="432" y="521.5"><tspan letter-spacing="0.47">山东省</tspan><tspan>(1338)</tspan></text>
<text x="385.7" y="537.0"><tspan letter-spacing="0.25">河南省</tspan><tspan>(463)</tspan></text>
<text x="399.3" y="554.2"><tspan letter-spacing="0.45">安徽省</tspan><tspan>(562)</tspan></text>
<text x="451.3" y="564.2"><tspan letter-spacing="0.37">江苏省</tspan><tspan>(2018)</tspan></text>
<text x="480.9" y="577.2"><tspan letter-spacing="0.27">上海市</tspan><tspan>(3007)</tspan></text>
<text x="454.6" y="595.9"><tspan letter-spacing="0.47">浙江省</tspan><tspan>(1323)</tspan></text>
<text x="276.2" y="544.4"><tspan letter-spacing="0.29">甘肃省</tspan><tspan>(100)</tspan></text>
<text x="332.3" y="559.7"><tspan letter-spacing="0.42">陕西省</tspan><tspan>(732)</tspan></text>
<text x="382.7" y="592.9"><tspan letter-spacing="0.45">湖北省</tspan><tspan>(638)</tspan></text>
<text x="267" y="601.3"><tspan letter-spacing="0.52">四川省</tspan><tspan>(661)</tspan></text>
<text x="311.1" y="610.4"><tspan letter-spacing="0.45">重庆市</tspan><tspan>(624)</tspan></text>
<text x="437.7" y="617.7"><tspan letter-spacing="0.55">福建省</tspan><tspan>(681)</tspan></text>
<text x="405.4" y="629.1"><tspan letter-spacing="0.42">江西省</tspan><tspan>(257)</tspan></text>
<text x="321.4" y="630.7"><tspan letter-spacing="0.52">贵州省</tspan><tspan>(198)</tspan></text>
<text x="365.5" y="640.6"><tspan letter-spacing="0.32">湖南省</tspan><tspan>(599)</tspan></text>
<text x="298.1" y="663.9"><tspan letter-spacing="0.69">广西壮族自治区</tspan><tspan>(191)</tspan></text>
<text x="412.9" y="672.0"><tspan letter-spacing="0.27">广东省</tspan><tspan>(1819)</tspan></text>
<text x="471.8" y="667.8"><tspan letter-spacing="0.29">台湾省</tspan><tspan>(0)</tspan></text>
<text x="414.4" y="689.6"><tspan letter-spacing="0.14">澳门</tspan><tspan>(0)</tspan></text>
<text x="398.7" y="700.1"><tspan letter-spacing="-0.01">香港</tspan><tspan>(1)</tspan></text>
<text x="371.2" y="732.5"><tspan letter-spacing="0.45">海南省</tspan><tspan>(194)</tspan></text>
<text x="248.8" y="681.0"><tspan letter-spacing="0.49">云南省</tspan><tspan>(244)</tspan></text>
<text x="153.2" y="583.7"><tspan letter-spacing="0.70">西藏自治区</tspan><tspan>(4)</tspan></text>
<text x="218.4" y="519.7"><tspan letter-spacing="0.44">青海省</tspan><tspan>(18)</tspan></text>
<text x="91.6" y="430.4"><tspan letter-spacing="0.84">新疆维吾尔自治区</tspan><tspan>(21)</tspan></text>
</g>
</svg>
<svg class="abs" id="chart" style="left:0;top:0" width="998" height="745" viewBox="0 0 998 745">
<line x1="726.5" y1="349.0" x2="726.5" y2="734" stroke="#858585" stroke-width="1" stroke-dasharray="5 2.5"/>
<line x1="726.5" y1="345" x2="726.5" y2="349.0" stroke="#8a8a8a" stroke-width="1"/>
<line x1="806.5" y1="349.0" x2="806.5" y2="734" stroke="#858585" stroke-width="1" stroke-dasharray="5 2.5"/>
<line x1="806.5" y1="345" x2="806.5" y2="349.0" stroke="#8a8a8a" stroke-width="1"/>
<line x1="886.5" y1="349.0" x2="886.5" y2="734" stroke="#858585" stroke-width="1" stroke-dasharray="5 2.5"/>
<line x1="886.5" y1="345" x2="886.5" y2="349.0" stroke="#8a8a8a" stroke-width="1"/>
<line x1="966.5" y1="349.0" x2="966.5" y2="734" stroke="#858585" stroke-width="1" stroke-dasharray="5 2.5"/>
<line x1="966.5" y1="345" x2="966.5" y2="349.0" stroke="#8a8a8a" stroke-width="1"/>
<line x1="642.5" y1="349.0" x2="967" y2="349.0" stroke="#707070" stroke-width="1"/>
<line x1="646.5" y1="345" x2="646.5" y2="731" stroke="#8a8a8a" stroke-width="1.2"/>
<line x1="642.5" y1="387.2" x2="646.5" y2="387.2" stroke="#8a8a8a" stroke-width="1.2"/>
<line x1="642.5" y1="425.4" x2="646.5" y2="425.4" stroke="#8a8a8a" stroke-width="1.2"/>
<line x1="642.5" y1="463.6" x2="646.5" y2="463.6" stroke="#8a8a8a" stroke-width="1.2"/>
<line x1="642.5" y1="501.8" x2="646.5" y2="501.8" stroke="#8a8a8a" stroke-width="1.2"/>
<line x1="642.5" y1="540.0" x2="646.5" y2="540.0" stroke="#8a8a8a" stroke-width="1.2"/>
<line x1="642.5" y1="578.2" x2="646.5" y2="578.2" stroke="#8a8a8a" stroke-width="1.2"/>
<line x1="642.5" y1="616.4" x2="646.5" y2="616.4" stroke="#8a8a8a" stroke-width="1.2"/>
<line x1="642.5" y1="654.6" x2="646.5" y2="654.6" stroke="#8a8a8a" stroke-width="1.2"/>
<line x1="642.5" y1="692.8" x2="646.5" y2="692.8" stroke="#8a8a8a" stroke-width="1.2"/>
<line x1="642.5" y1="731.0" x2="646.5" y2="731.0" stroke="#8a8a8a" stroke-width="1.2"/>
<text x="646.5" y="339.3" text-anchor="middle" font-family="Liberation Sans, sans-serif" font-size="12.3" fill="#222">0</text>
<text x="726.5" y="339.3" text-anchor="middle" font-family="Liberation Sans, sans-serif" font-size="12.3" fill="#222">1000</text>
<text x="806.5" y="339.3" text-anchor="middle" font-family="Liberation Sans, sans-serif" font-size="12.3" fill="#222">2000</text>
<text x="886.5" y="339.3" text-anchor="middle" font-family="Liberation Sans, sans-serif" font-size="12.3" fill="#222">3000</text>
<text x="966.5" y="339.3" text-anchor="middle" font-family="Liberation Sans, sans-serif" font-size="12.3" fill="#222">4000</text>
<rect x="647.0" y="360.9" width="239.8" height="15.2" fill="#62c6d6"/>
<text x="634.5" y="373.8" text-anchor="end" font-family="Liberation Sans, Noto Sans CJK SC, sans-serif" font-size="14.3" fill="#000">上海市</text>
<text x="895.5" y="372.9" font-family="Liberation Sans, sans-serif" font-size="13.1" fill="#111" textLength="28.0" lengthAdjust="spacingAndGlyphs">3007</text>
<rect x="647.0" y="399.0" width="220.1" height="15.2" fill="#62c6d6"/>
<text x="634.5" y="411.9" text-anchor="end" font-family="Liberation Sans, Noto Sans CJK SC, sans-serif" font-size="14.3" fill="#000">北京市</text>
<text x="875.8" y="411.0" font-family="Liberation Sans, sans-serif" font-size="13.1" fill="#111" textLength="28.0" lengthAdjust="spacingAndGlyphs">2761</text>
<rect x="647.0" y="437.2" width="160.6" height="15.2" fill="#62c6d6"/>
<text x="634.5" y="450.1" text-anchor="end" font-family="Liberation Sans, Noto Sans CJK SC, sans-serif" font-size="14.3" fill="#000">江苏省</text>
<text x="816.3" y="449.2" font-family="Liberation Sans, sans-serif" font-size="13.1" fill="#111" textLength="28.0" lengthAdjust="spacingAndGlyphs">2018</text>
<rect x="647.0" y="475.3" width="144.7" height="15.2" fill="#62c6d6"/>
<text x="634.5" y="488.2" text-anchor="end" font-family="Liberation Sans, Noto Sans CJK SC, sans-serif" font-size="14.3" fill="#000">广东省</text>
<text x="800.4" y="487.3" font-family="Liberation Sans, sans-serif" font-size="13.1" fill="#111" textLength="28.0" lengthAdjust="spacingAndGlyphs">1819</text>
<rect x="647.0" y="513.5" width="106.2" height="15.2" fill="#62c6d6"/>
<text x="634.5" y="526.4" text-anchor="end" font-family="Liberation Sans, Noto Sans CJK SC, sans-serif" font-size="14.3" fill="#000">山东省</text>
<text x="761.9" y="525.5" font-family="Liberation Sans, sans-serif" font-size="13.1" fill="#111" textLength="28.0" lengthAdjust="spacingAndGlyphs">1338</text>
<rect x="647.0" y="551.6" width="105.0" height="15.2" fill="#62c6d6"/>
<text x="634.5" y="564.5" text-anchor="end" font-family="Liberation Sans, Noto Sans CJK SC, sans-serif" font-size="14.3" fill="#000">浙江省</text>
<text x="760.7" y="563.6" font-family="Liberation Sans, sans-serif" font-size="13.1" fill="#111" textLength="28.0" lengthAdjust="spacingAndGlyphs">1323</text>
<rect x="647.0" y="589.8" width="72.9" height="15.2" fill="#62c6d6"/>
<text x="634.5" y="602.7" text-anchor="end" font-family="Liberation Sans, Noto Sans CJK SC, sans-serif" font-size="14.3" fill="#000">河北省</text>
<text x="728.6" y="601.8" font-family="Liberation Sans, sans-serif" font-size="13.1" fill="#111" textLength="21.0" lengthAdjust="spacingAndGlyphs">921</text>
<rect x="647.0" y="627.9" width="60.0" height="15.2" fill="#62c6d6"/>
<text x="634.5" y="640.8" text-anchor="end" font-family="Liberation Sans, Noto Sans CJK SC, sans-serif" font-size="14.3" fill="#000">天津市</text>
<text x="715.7" y="639.9" font-family="Liberation Sans, sans-serif" font-size="13.1" fill="#111" textLength="21.0" lengthAdjust="spacingAndGlyphs">760</text>
<rect x="647.0" y="666.1" width="57.8" height="15.2" fill="#62c6d6"/>
<text x="634.5" y="679.0" text-anchor="end" font-family="Liberation Sans, Noto Sans CJK SC, sans-serif" font-size="14.3" fill="#000">陕西省</text>
<text x="713.5" y="678.1" font-family="Liberation Sans, sans-serif" font-size="13.1" fill="#111" textLength="21.0" lengthAdjust="spacingAndGlyphs">732</text>
<rect x="647.0" y="704.2" width="53.7" height="15.2" fill="#62c6d6"/>
<text x="634.5" y="717.1" text-anchor="end" font-family="Liberation Sans, Noto Sans CJK SC, sans-serif" font-size="14.3" fill="#000">福建省</text>
<text x="709.4" y="716.2" font-family="Liberation Sans, sans-serif" font-size="13.1" fill="#111" textLength="21.0" lengthAdjust="spacingAndGlyphs">681</text>
</svg>
<svg class="abs" id="logo" style="left:0;top:0" width="230" height="125" viewBox="0 0 230 125">
<g fill="none" stroke="#2a9da5" stroke-width="1.7" stroke-linecap="round" stroke-linejoin="round">
<path d="M46.2,61.7C45.3,61.5 44.5,62.5 43.2,61.2C42.0,59.8 41.5,60.3 42.0,57.1C42.6,53.9 42.1,54.3 45.0,50.5C47.9,46.7 48.9,48.1 51.6,44.5C54.3,40.9 51.5,42.4 54.0,38.4C56.6,34.5 55.0,35.2 60.1,31.2C65.1,27.3 63.7,27.7 70.9,25.2C78.1,22.7 76.2,23.1 84.1,22.8C92.0,22.6 90.5,22.6 97.3,24.4C104.2,26.2 102.1,25.5 107.0,28.8C111.8,32.1 110.6,32.2 113.6,35.4C116.5,38.7 113.7,37.9 116.8,39.6C119.9,41.4 119.5,40.1 123.8,41.2C128.0,42.3 127.0,41.2 131.0,43.3C135.0,45.3 134.6,45.0 137.0,48.1C139.5,51.1 139.0,50.0 139.2,53.5C139.4,56.9 139.0,57.1 137.6,59.5C136.2,61.8 138.4,60.7 134.6,61.3C130.8,61.8 127.9,61.3 125.0,61.3"/>
<path d="M53.4,61.7C52.5,61.4 51.5,62.3 50.2,60.9C48.9,59.6 48.8,60.0 49.2,57.1C49.7,54.1 49.3,54.1 51.6,51.1C54.0,48.0 54.7,49.9 57.1,46.9C59.4,43.8 57.1,44.5 59.5,40.9C61.8,37.2 60.7,37.8 64.9,34.8C69.0,31.8 67.9,32.4 73.3,30.9C78.7,29.3 76.8,29.7 82.9,29.7C89.0,29.6 88.0,29.2 93.7,30.6C99.5,32.1 98.2,31.8 102.1,34.5C106.1,37.2 104.7,36.8 107.0,39.6C109.2,42.5 107.1,42.4 109.6,44.1C112.1,45.8 111.8,44.6 115.4,45.3C118.9,46.0 119.6,46.1 121.4,46.5"/>
</g>
<circle cx="65.6" cy="61.9" r="9" fill="#2ba0a8"/>
<circle cx="62.99999999999999" cy="57.699999999999996" r="1.35" fill="#d8f1f2"/>
<circle cx="68.19999999999999" cy="57.699999999999996" r="1.35" fill="#d8f1f2"/>
<circle cx="60.39999999999999" cy="61.9" r="1.35" fill="#d8f1f2"/>
<circle cx="65.6" cy="61.9" r="1.35" fill="#d8f1f2"/>
<circle cx="70.8" cy="61.9" r="1.35" fill="#d8f1f2"/>
<circle cx="62.99999999999999" cy="66.1" r="1.35" fill="#d8f1f2"/>
<circle cx="68.19999999999999" cy="66.1" r="1.35" fill="#d8f1f2"/>
<circle cx="114.2" cy="61.9" r="9" fill="#2ba0a8"/>
<circle cx="111.60000000000001" cy="57.699999999999996" r="1.35" fill="#d8f1f2"/>
<circle cx="116.8" cy="57.699999999999996" r="1.35" fill="#d8f1f2"/>
<circle cx="109.0" cy="61.9" r="1.35" fill="#d8f1f2"/>
<circle cx="114.2" cy="61.9" r="1.35" fill="#d8f1f2"/>
<circle cx="119.4" cy="61.9" r="1.35" fill="#d8f1f2"/>
<circle cx="111.60000000000001" cy="66.1" r="1.35" fill="#d8f1f2"/>
<circle cx="116.8" cy="66.1" r="1.35" fill="#d8f1f2"/>
<g fill="#2ba0a8" stroke="#2ba0a8" stroke-linecap="round">
<line x1="78.5" y1="59.6" x2="82.5" y2="59.6" stroke-width="1.2"/>
<line x1="78.5" y1="63.2" x2="82.5" y2="63.2" stroke-width="1.2"/>
<path d="M82.5,57.6 h3.2 a3.8,3.8 0 0 1 0,7.6 h-3.2 z" stroke="none"/>
<line x1="89" y1="61.4" x2="99.5" y2="61.4" stroke-width="1.3"/>
<g transform="translate(125.2,48.8) rotate(28) scale(1.2)">
<path d="M-3.4,-2.8 h3.2 v5.6 h-3.2 a2.8,2.8 0 0 1 0,-5.6 z" stroke="none"/>
<line x1="0" y1="-1.5" x2="4" y2="-1.5" stroke-width="1.1"/>
<line x1="0" y1="1.5" x2="4" y2="1.5" stroke-width="1.1"/>
</g>
</g>
<text x="40.3" y="98.2" font-family="Liberation Sans, sans-serif" font-weight="700" font-size="24.2" fill="#0a0a0a" stroke="#0a0a0a" stroke-width="0.5" textLength="88.8" lengthAdjust="spacingAndGlyphs">EVCIPA</text>
<g font-family="Liberation Sans, sans-serif" font-weight="700" font-size="5.6" fill="#262626">
<text x="134.3" y="84.6" textLength="53.5" lengthAdjust="spacingAndGlyphs">China Electric Vehicle</text>
<text x="134.3" y="91.5" textLength="58" lengthAdjust="spacingAndGlyphs">Charging Infrastructure</text>
<text x="134.3" y="98.2" textLength="47.5" lengthAdjust="spacingAndGlyphs">Promotion Alliance</text>
</g>
<text x="40.6" y="115" font-family="Liberation Sans, Noto Sans CJK SC, sans-serif" font-weight="700" font-size="9" fill="#222" textLength="151.2" lengthAdjust="spacing">中国电动汽车充电基础设施促进联盟</text>
</svg>
<svg class="abs" id="wm" style="left:770px;top:675px" width="228" height="60" viewBox="770 675 228 60">
<g fill="#fff" stroke="#9a9a9a" stroke-width="0.9">
<path d="M786.5,687.5 c-6,0 -10.5,4 -10.5,9 c0,3 1.6,5.6 4.2,7.2 l-1.2,4 l4.6,-2.6 c1,0.3 2,0.4 2.9,0.4 c6,0 10.5,-4 10.5,-9 c0,-5 -4.5,-9 -10.5,-9 z"/>
<path d="M802.8,693.2 c-6.6,0 -12,4.5 -12,10.2 c0,5.6 5.4,10.2 12,10.2 c1.3,0 2.5,-0.2 3.7,-0.5 l4.4,2.5 l-1.2,-3.9 c3.1,-1.9 5.1,-4.9 5.1,-8.3 c0,-5.700 -5.4,-10.2 -12,-10.2 z"/>
</g>
<g fill="#fff" stroke="#9a9a9a" stroke-width="0.7">
<circle cx="784.3" cy="692.2" r="1.2"/>
<circle cx="795.2" cy="692.2" r="1.2"/>
<circle cx="798.6" cy="700.3" r="1.2"/>
<circle cx="807.6" cy="700.3" r="1.2"/>
</g>
</svg>
<div class="abs sans" id="wmt" style="left:823px;top:689px;font-size:24px;font-weight:350;color:#fff;text-shadow:1px 1px 0.8px rgba(0,0,0,.7),0 0 1px rgba(0,0,0,.3);letter-spacing:-0.1px">中国充电联盟</div>
</div>
</body>
</html>
